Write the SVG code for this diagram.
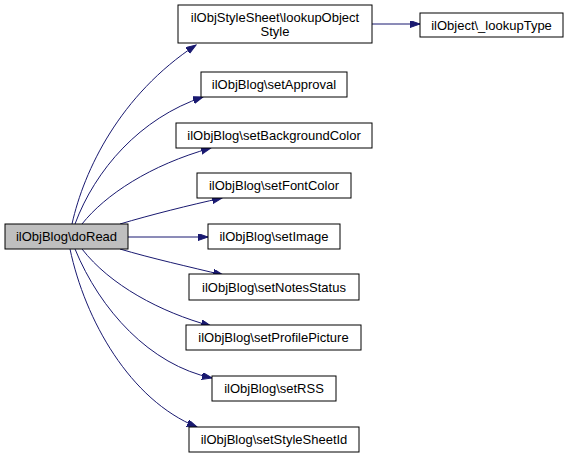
<svg xmlns="http://www.w3.org/2000/svg" width="569" height="458" viewBox="0 0 569 458">
<style>
.n rect{fill:#fff;stroke:#000;stroke-width:1}
.n text{font-family:"Liberation Sans",Arial,sans-serif;font-size:13px;text-anchor:middle;fill:#000}
.e path{fill:none;stroke:#191970;stroke-width:1}
</style>
<defs>
<marker id="a" markerUnits="userSpaceOnUse" markerWidth="11" markerHeight="8" refX="10" refY="3.5" orient="auto" viewBox="0 0 11 8">
<path d="M0,0 L10,3.5 L0,7 z" fill="#191970" stroke="#191970"/>
</marker>
</defs>
<rect width="569" height="458" fill="#fff"/>
<g class="e">
<path d="M72,224 C84,170 120,95 196,45" marker-end="url(#a)"/>
<path d="M75,224 C95,170 140,118 203,97" marker-end="url(#a)"/>
<path d="M82,224 C105,195 150,165 211,148" marker-end="url(#a)"/>
<path d="M120,224 C150,215 190,205 222,198" marker-end="url(#a)"/>
<path d="M128,237 L208,237" marker-end="url(#a)"/>
<path d="M120,249 C150,258 190,267 223,275" marker-end="url(#a)"/>
<path d="M82,249 C110,285 160,312 211,326" marker-end="url(#a)"/>
<path d="M75,249 C100,310 150,365 212,378" marker-end="url(#a)"/>
<path d="M70,249 C85,320 130,400 197,427" marker-end="url(#a)"/>
<path d="M372,24 L420,24" marker-end="url(#a)"/>
</g>
<g id="doRead" class="n"><rect x="5" y="224" width="123" height="25" style="fill:#bfbfbf"/><text x="66.5" y="241">ilObjBlog\doRead</text></g>
<g id="lookupObjectStyle" class="n"><rect x="178" y="5" width="194" height="38"/><text x="275" y="22">ilObjStyleSheet\lookupObject</text><text x="275" y="36">Style</text></g>
<g id="lookupType" class="n"><rect x="420" y="13" width="143" height="24"/><text x="491.5" y="29.5">ilObject\_lookupType</text></g>
<g id="setApproval" class="n"><rect x="201" y="72" width="146" height="25"/><text x="274" y="89">ilObjBlog\setApproval</text></g>
<g id="setBackgroundColor" class="n"><rect x="176" y="123" width="196" height="25"/><text x="274" y="140">ilObjBlog\setBackgroundColor</text></g>
<g id="setFontColor" class="n"><rect x="197" y="173" width="154" height="25"/><text x="274" y="190">ilObjBlog\setFontColor</text></g>
<g id="setImage" class="n"><rect x="208" y="224" width="132" height="25"/><text x="274" y="241">ilObjBlog\setImage</text></g>
<g id="setNotesStatus" class="n"><rect x="189" y="274" width="170" height="26"/><text x="274" y="291.5">ilObjBlog\setNotesStatus</text></g>
<g id="setProfilePicture" class="n"><rect x="186" y="325" width="175" height="25"/><text x="273.5" y="342">ilObjBlog\setProfilePicture</text></g>
<g id="setRSS" class="n"><rect x="212" y="376" width="124" height="25"/><text x="274" y="393">ilObjBlog\setRSS</text></g>
<g id="setStyleSheetId" class="n"><rect x="189" y="427" width="170" height="25"/><text x="274" y="444">ilObjBlog\setStyleSheetId</text></g>
</svg>
